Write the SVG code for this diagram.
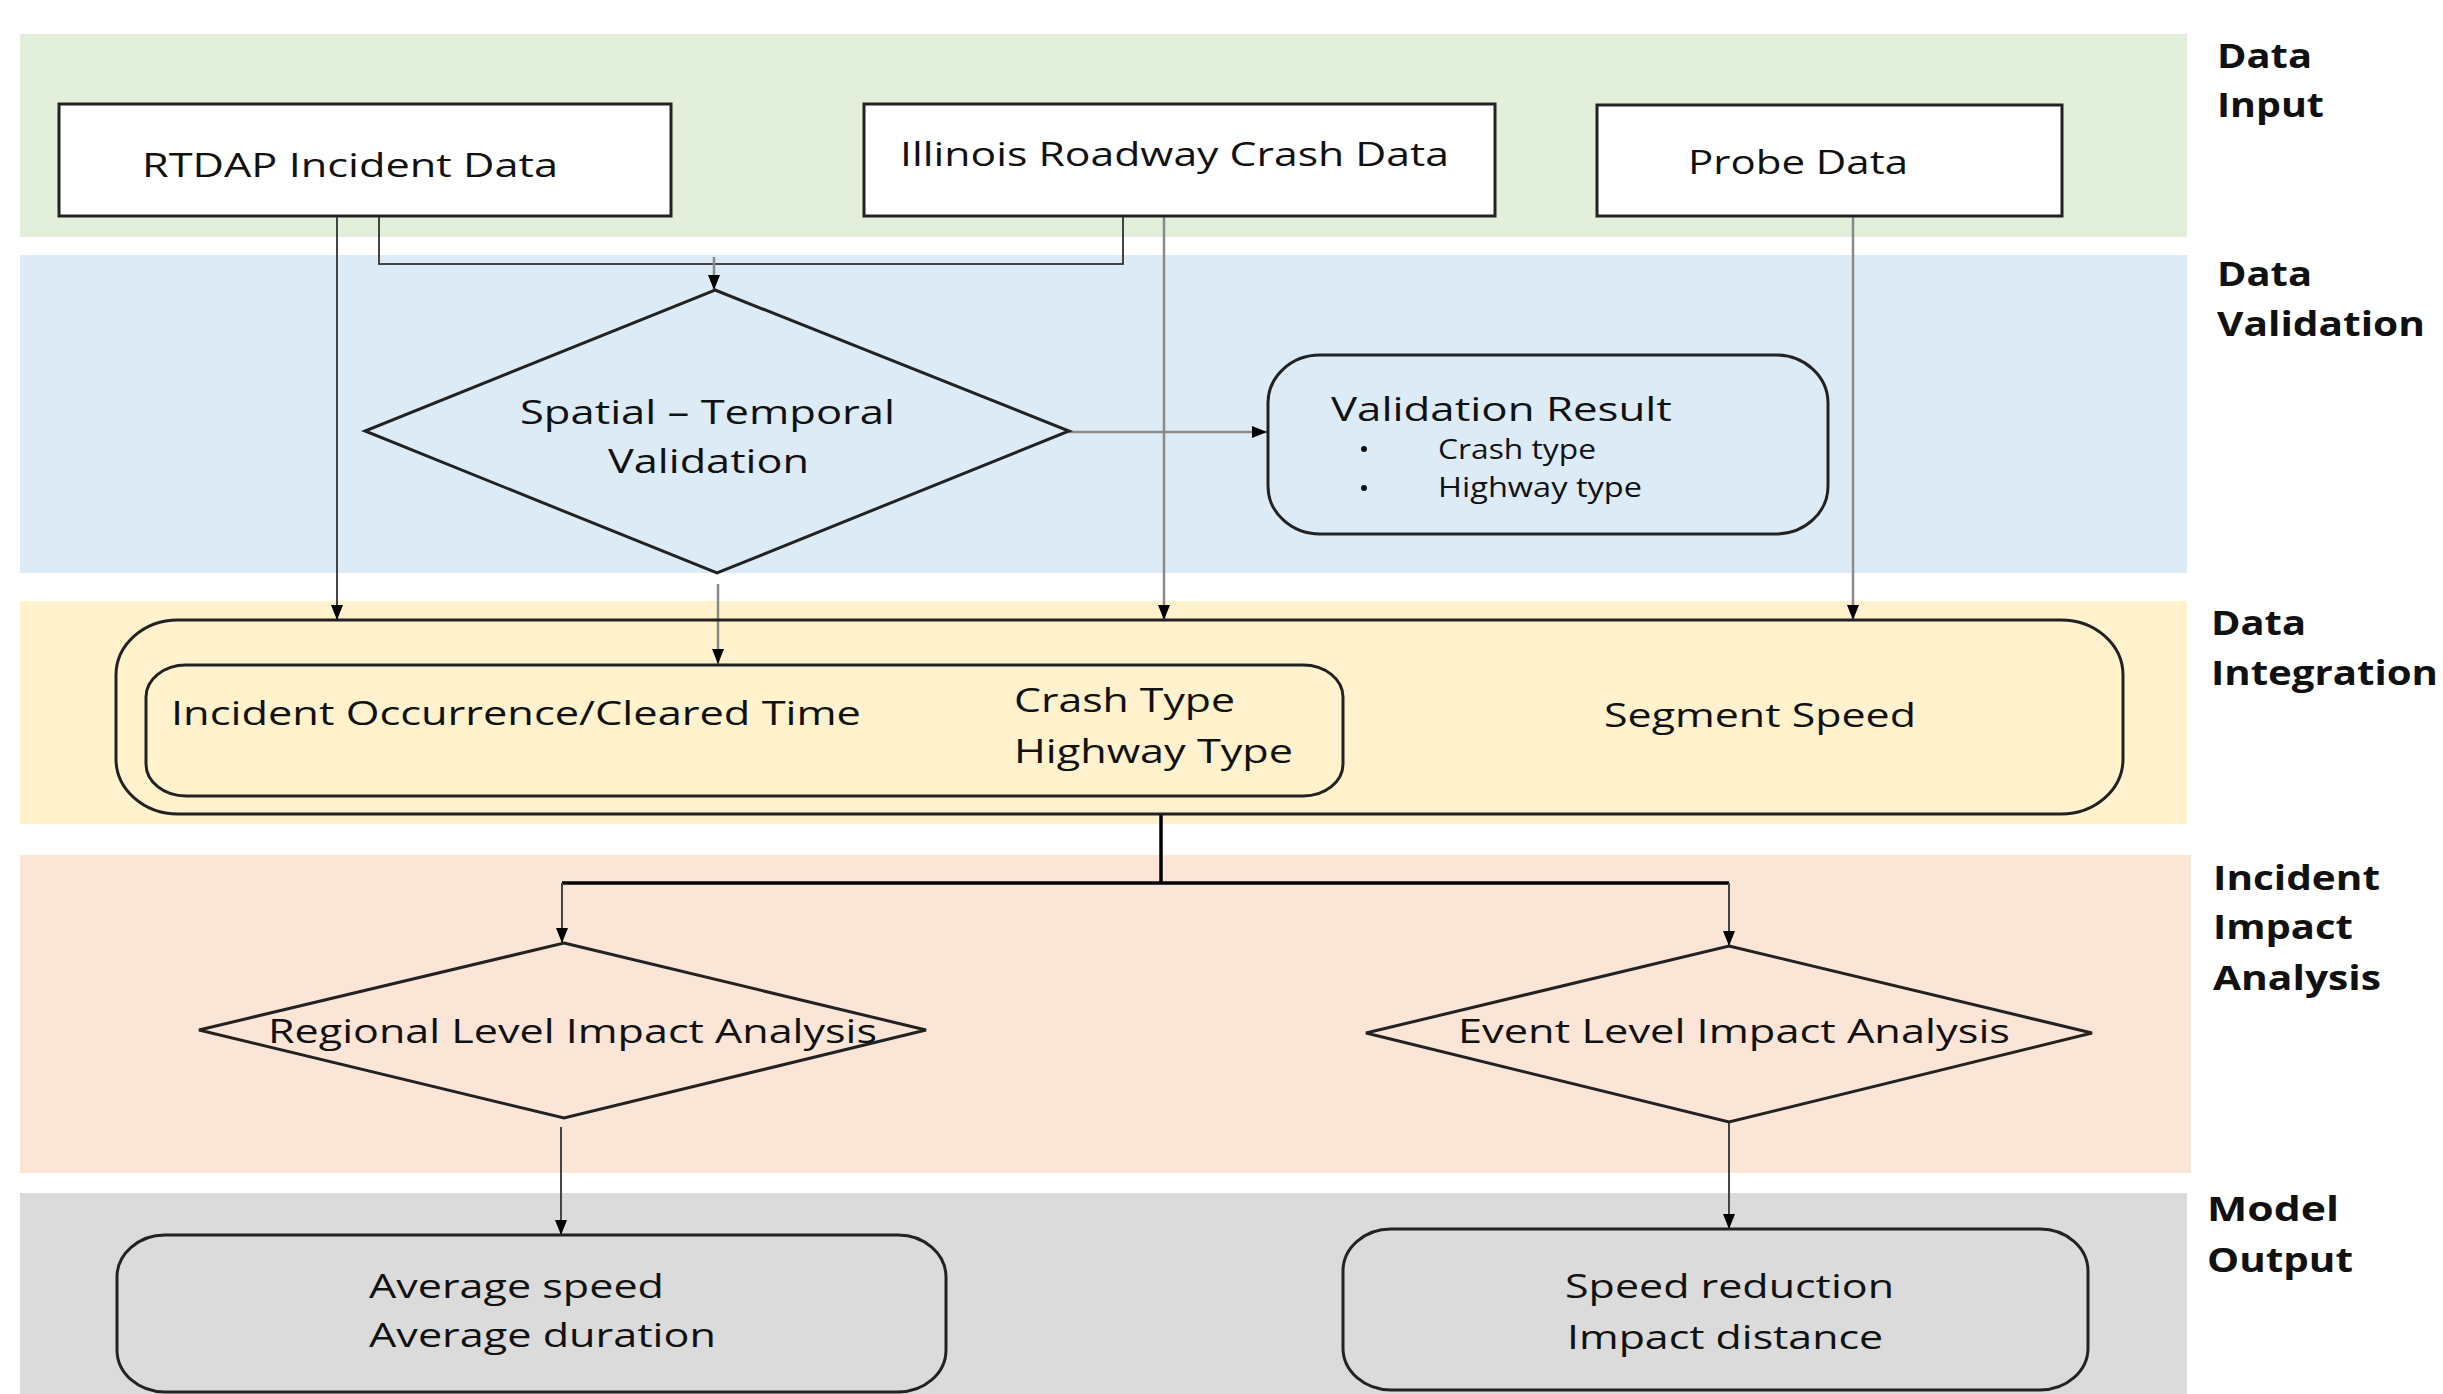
<svg xmlns="http://www.w3.org/2000/svg" width="2443" height="1394" viewBox="0 0 2443 1394">
<style>
.t{font-family:"Open Sans","Noto Sans","Liberation Sans",sans-serif;font-size:33px;fill:#111;}
.s{font-family:"Open Sans","Noto Sans","Liberation Sans",sans-serif;font-size:27px;fill:#111;}
.lab{font-family:"Open Sans","Noto Sans","Liberation Sans",sans-serif;font-size:34px;font-weight:bold;fill:#111;}
.box{stroke:#222;stroke-width:3;}
.c{fill:none;stroke:#444;stroke-width:2;}
.cg{fill:none;stroke:#8a8a8a;stroke-width:2.5;}
.ck{fill:none;stroke:#000;stroke-width:3.5;}
</style>
<defs>
<marker id="ah" markerUnits="userSpaceOnUse" markerWidth="15" markerHeight="12" refX="15" refY="6" orient="auto">
<path d="M0,0 L15,6 L0,12 z" fill="#000"/>
</marker>
</defs>
<rect width="2443" height="1394" fill="#fff"/>
<g id="bands">
<rect x="20" y="34" width="2167" height="203" fill="#E2EFDA"/>
<rect x="20" y="255" width="2167" height="318" fill="#DDEBF7"/>
<rect x="20" y="601" width="2167" height="223" fill="#FFF2CC"/>
<rect x="20" y="855" width="2171" height="318" fill="#FBE5D6"/>
<rect x="20" y="1193" width="2167" height="201" fill="#DBDBDB"/>
</g>
<g id="lane-labels">
<text class="lab" x="2217" y="68" textLength="95" lengthAdjust="spacingAndGlyphs">Data</text>
<text class="lab" x="2217" y="117" textLength="107" lengthAdjust="spacingAndGlyphs">Input</text>
<text class="lab" x="2217" y="286" textLength="95" lengthAdjust="spacingAndGlyphs">Data</text>
<text class="lab" x="2217" y="336" textLength="208" lengthAdjust="spacingAndGlyphs">Validation</text>
<text class="lab" x="2211" y="635" textLength="95" lengthAdjust="spacingAndGlyphs">Data</text>
<text class="lab" x="2211" y="685" textLength="227" lengthAdjust="spacingAndGlyphs">Integration</text>
<text class="lab" x="2213" y="890" textLength="167" lengthAdjust="spacingAndGlyphs">Incident</text>
<text class="lab" x="2213" y="939" textLength="140" lengthAdjust="spacingAndGlyphs">Impact</text>
<text class="lab" x="2213" y="990" textLength="168" lengthAdjust="spacingAndGlyphs">Analysis</text>
<text class="lab" x="2207" y="1221" textLength="132" lengthAdjust="spacingAndGlyphs">Model</text>
<text class="lab" x="2207" y="1272" textLength="146" lengthAdjust="spacingAndGlyphs">Output</text>
</g>
<g id="connectors">
<path class="c" d="M337,216 V620" marker-end="url(#ah)"/>
<path class="c" d="M379,216 V264 H1123 V217"/>
<path class="cg" d="M714,257 V290" marker-end="url(#ah)"/>
<path class="cg" d="M1164,217 V620" marker-end="url(#ah)"/>
<path class="cg" d="M1853,216 V620" marker-end="url(#ah)"/>
<path class="cg" d="M1069,432 H1267" marker-end="url(#ah)"/>
<path class="cg" d="M718,584 V664" marker-end="url(#ah)"/>
<path class="ck" d="M1161,815 V883"/>
<path class="ck" d="M562,883 H1729"/>
<path class="c" d="M562,883 V943" marker-end="url(#ah)"/>
<path class="c" d="M1729,883 V946" marker-end="url(#ah)"/>
<path class="c" d="M561,1127 V1235" marker-end="url(#ah)"/>
<path class="c" d="M1729,1122 V1229" marker-end="url(#ah)"/>
</g>
<g id="rtdap">
<rect class="box" x="59" y="104" width="612" height="112" fill="#fff"/>
<text class="t" x="142" y="177" textLength="416" lengthAdjust="spacingAndGlyphs">RTDAP Incident Data</text>
</g>
<g id="illinois">
<rect class="box" x="864" y="104" width="631" height="112" fill="#fff"/>
<text class="t" x="900" y="166" textLength="549" lengthAdjust="spacingAndGlyphs">Illinois Roadway Crash Data</text>
</g>
<g id="probe">
<rect class="box" x="1597" y="105" width="465" height="111" fill="#fff"/>
<text class="t" x="1688" y="174" textLength="220" lengthAdjust="spacingAndGlyphs">Probe Data</text>
</g>
<g id="spatial-temporal">
<polygon class="box" points="715,290 1069,431 717,573 365,431" fill="none"/>
<text class="t" x="520" y="424" textLength="375" lengthAdjust="spacingAndGlyphs">Spatial – Temporal</text>
<text class="t" x="608" y="473" textLength="201" lengthAdjust="spacingAndGlyphs">Validation</text>
</g>
<g id="validation-result">
<rect class="box" x="1268" y="355" width="560" height="179" rx="52" ry="48" fill="none"/>
<text class="t" x="1331" y="421" textLength="341" lengthAdjust="spacingAndGlyphs">Validation Result</text>
<circle cx="1364" cy="449" r="3" fill="#111"/>
<circle cx="1364" cy="488" r="3" fill="#111"/>
<text class="s" x="1438" y="459" textLength="158" lengthAdjust="spacingAndGlyphs">Crash type</text>
<text class="s" x="1438" y="497" textLength="204" lengthAdjust="spacingAndGlyphs">Highway type</text>
</g>
<g id="integration">
<rect class="box" x="116" y="620" width="2007" height="194" rx="62" ry="55" fill="none"/>
<rect class="box" x="146" y="665" width="1197" height="131" rx="40" ry="32" fill="none"/>
<text class="t" x="171" y="725" textLength="690" lengthAdjust="spacingAndGlyphs">Incident Occurrence/Cleared Time</text>
<text class="t" x="1014" y="712" textLength="221" lengthAdjust="spacingAndGlyphs">Crash Type</text>
<text class="t" x="1014" y="763" textLength="279" lengthAdjust="spacingAndGlyphs">Highway Type</text>
<text class="t" x="1604" y="727" textLength="312" lengthAdjust="spacingAndGlyphs">Segment Speed</text>
</g>
<g id="regional">
<polygon class="box" points="564,943 926,1030 564,1118 199,1030" fill="none"/>
<text class="t" x="268" y="1043" textLength="609" lengthAdjust="spacingAndGlyphs">Regional Level Impact Analysis</text>
</g>
<g id="event">
<polygon class="box" points="1729,946 2092,1033 1729,1122 1366,1033" fill="none"/>
<text class="t" x="1458" y="1043" textLength="552" lengthAdjust="spacingAndGlyphs">Event Level Impact Analysis</text>
</g>
<g id="regional-output">
<rect class="box" x="117" y="1235" width="829" height="157" rx="48" ry="42" fill="none"/>
<text class="t" x="369" y="1298" textLength="295" lengthAdjust="spacingAndGlyphs">Average speed</text>
<text class="t" x="369" y="1347" textLength="347" lengthAdjust="spacingAndGlyphs">Average duration</text>
</g>
<g id="event-output">
<rect class="box" x="1343" y="1229" width="745" height="161" rx="48" ry="42" fill="none"/>
<text class="t" x="1565" y="1298" textLength="329" lengthAdjust="spacingAndGlyphs">Speed reduction</text>
<text class="t" x="1567" y="1349" textLength="316" lengthAdjust="spacingAndGlyphs">Impact distance</text>
</g>
</svg>
